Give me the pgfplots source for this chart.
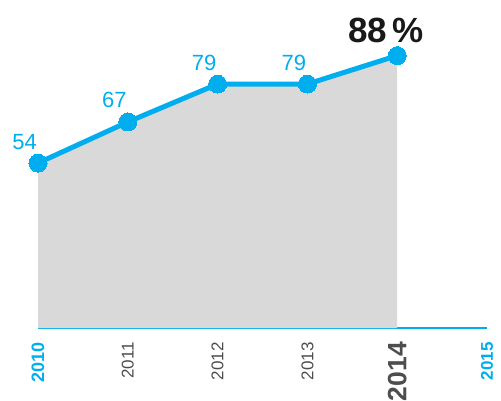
\documentclass[border=0pt]{standalone}
\usepackage{fontspec}
\setmainfont{Liberation Sans}
\usepackage{pgfplots}
\pgfplotsset{compat=1.18}
\definecolor{cy}{HTML}{00AEEF}
\definecolor{fillg}{HTML}{D9D9D9}
\definecolor{tg}{HTML}{4D4D4D}
\begin{document}
\begin{tikzpicture}
\useasboundingbox (-38bp,-73bp) rectangle (463bp,328bp);
\begin{axis}[at={(0,0)}, anchor=south west, scale only axis,
  width=449bp, height=328bp,
  xmin=2010, xmax=2015, ymin=1.8, ymax=105.6,
  axis x line=bottom, axis y line=none,
  axis line style={cy, line width=1.2bp, -},
  /pgf/number format/assume math mode=true,
  xtick={2010,2011,2012,2013,2014,2015},
  xticklabels={{\fontsize{18bp}{18bp}\selectfont\bfseries\color{cy}2010},2011,2012,2013,{\fontsize{26.5bp}{26.5bp}\selectfont\bfseries 2014},{\bfseries\color{cy}2015}},
  major tick length=0pt,
  xticklabel style={rotate=90, anchor=east, inner sep=0pt, font=\fontsize{17bp}{17bp}\selectfont, text=tg},
  xticklabel shift=14bp,
  clip=false]
\addplot[draw=none, fill=fillg] coordinates {(2010,1.8) (2010,54) (2011,67) (2012,79) (2013,79) (2014,88) (2014,1.8)} -- cycle;
\addplot[cy, line width=5bp, mark=*, mark size=9bp, mark options={fill=cy, draw=cy, line width=0pt}] coordinates {(2010,54) (2011,67) (2012,79) (2013,79) (2014,88)};
\addplot[draw=none, mark=none, point meta=y,
  nodes near coords={\pgfmathprintnumber[fixed,precision=0,assume math mode=true]{\pgfplotspointmeta}},
  nodes near coords style={anchor=base east, inner sep=0pt, xshift=-1bp, yshift=14bp, font=\fontsize{22bp}{22bp}\selectfont, text=cy}]
  coordinates {(2010,54) (2011,67) (2012,79) (2013,79)};
\addplot[draw=none, mark=none, nodes near coords={88\,\%},
  nodes near coords style={anchor=base east, inner sep=0pt, xshift=27bp, yshift=13bp, font=\fontsize{35bp}{35bp}\selectfont\bfseries, text=black!90}]
  coordinates {(2014,88)};
\end{axis}
\end{tikzpicture}
\end{document}
